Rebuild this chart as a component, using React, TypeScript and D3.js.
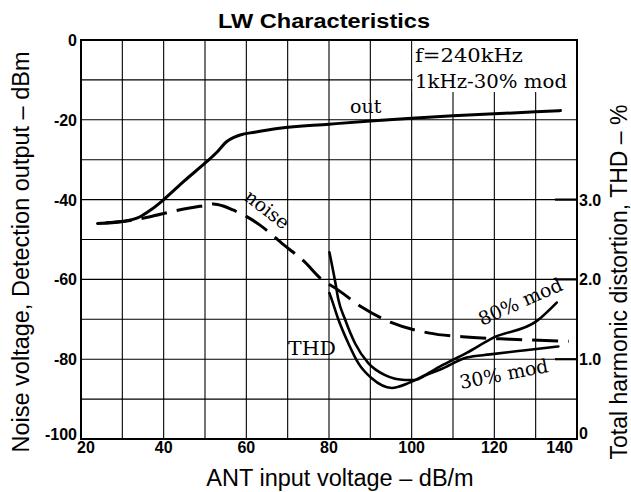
import React from "react";
import * as d3 from "d3";

const xTicks = [20, 40, 60, 80, 100, 120, 140];
const yTicks = [0, -20, -40, -60, -80, -100];
const thdTicks = [0, 1.0, 2.0, 3.0];
const thdTickLabels = ["0", "1.0", "2.0", "3.0"];

// detection output (dBm)
const outX = [24, 30, 34.3, 37, 39.9, 45, 50.4, 53, 55.2, 57, 58.5, 62, 68, 80, 90, 100, 110, 120, 130, 136];
const outY = [-46, -45.5, -44.3, -42.5, -40.1, -35.3, -30.5, -28, -25.5, -24.4, -23.8, -23.1, -22.1, -21.1, -20.3, -19.6, -19, -18.5, -18, -17.7];

// noise voltage (dBm)
const noiseX = [26, 30, 36.7, 42, 47, 50.4, 52, 54.4, 56.8, 60, 63.3, 69, 74, 78, 82, 88, 95, 104, 114, 124, 138];
const noiseY = [-45.8, -45.5, -44.3, -43, -42, -41.4, -41.1, -41.6, -42.6, -44.2, -46.4, -51.3, -55.5, -59.8, -62.5, -67, -70.8, -73.4, -74.5, -75, -75.5];

// THD (%) 30% mod
const thd30X = [80.1, 81.5, 82.25, 83.87, 86.29, 89.51, 93.55, 98.39, 100.8, 103.5, 106.9, 113.3, 119, 127, 135.5];
const thd30Y = [2.34, 1.97, 1.75, 1.5, 1.2, 0.95, 0.8, 0.74, 0.74, 0.8, 0.87, 1.02, 1.06, 1.11, 1.16];

// THD (%) 80% mod
const thd80X = [80.1, 80.65, 82.25, 84.67, 87.09, 90.33, 95.17, 99.19, 103.2, 106.9, 113.3, 119.8, 130.3, 135.1];
const thd80Y = [1.83, 1.75, 1.5, 1.2, 0.95, 0.76, 0.64, 0.7, 0.8, 0.91, 1.08, 1.27, 1.48, 1.71];

const W = 631;
const H = 492;
const L = 81, T = 40, R = 577, B = 439;

const SANS = "'Liberation Sans', Arial, sans-serif";
const SERIF = "'DejaVu Serif', serif";

export default function App() {
  const x = d3.scaleLinear().domain([20, 140]).range([L, R]);
  const y = d3.scaleLinear().domain([-100, 0]).range([B, T]);
  const y2 = d3.scaleLinear().domain([0, 5]).range([B, T]);

  const zip = (a: number[], b: number[]) => a.map((v, i) => [v, b[i]] as [number, number]);
  const lineL = d3.line<[number, number]>().x(d => x(d[0])).y(d => y(d[1])).curve(d3.curveMonotoneX);
  const lineR = d3.line<[number, number]>().x(d => x(d[0])).y(d => y2(d[1])).curve(d3.curveMonotoneX);

  const gridX = d3.range(30, 140, 10);
  const gridY = d3.range(-90, 0, 10);

  return (
    <svg width={W} height={H} style={{ position: "absolute", left: 0, top: 0, background: "#fff" }}>
      <rect x={0} y={0} width={W} height={H} fill="#fff" />
      <text x={324} y={28} textAnchor="middle" fontFamily={SANS} fontWeight="bold" fontSize={20}
        textLength={212} lengthAdjust="spacingAndGlyphs">LW Characteristics</text>

      {/* grid */}
      {gridX.map(v => (
        <line key={"gx" + v} x1={x(v)} x2={x(v)} y1={T} y2={B} stroke="#000" strokeWidth={1.1} />
      ))}
      {gridY.map(v => (
        <line key={"gy" + v} x1={L} x2={R} y1={y(v)} y2={y(v)} stroke="#000" strokeWidth={1.1} />
      ))}

      {/* condition box (white-out) */}
      <rect x={x(100) + 1} y={T + 1} width={x(140) - x(100) - 2} height={51} fill="#fff" />
      <text x={415} y={62} fontFamily={SERIF} fontSize={18} textLength={108} lengthAdjust="spacingAndGlyphs">f=240kHz</text>
      <text x={415} y={88} fontFamily={SERIF} fontSize={18} textLength={152} lengthAdjust="spacingAndGlyphs">1kHz-30% mod</text>

      {/* right axis inward ticks */}
      {thdTicks.slice(1).map(v => (
        <line key={"rt" + v} x1={R - 22} x2={R} y1={y2(v)} y2={y2(v)} stroke="#000" strokeWidth={2.2} />
      ))}

      {/* frame */}
      <rect x={L} y={T} width={R - L} height={B - T} fill="none" stroke="#000" strokeWidth={2} />

      {/* curves */}
      <path d={lineL(zip(outX, outY)) || ""} fill="none" stroke="#000" strokeWidth={3} strokeLinecap="round" />
      <path d={lineL(zip(noiseX, noiseY)) || ""} fill="none" stroke="#000" strokeWidth={3} strokeDasharray="26 10" />
      <path d={lineR(zip(thd30X, thd30Y)) || ""} fill="none" stroke="#000" strokeWidth={2.6} strokeLinecap="round" />
      <path d={lineR(zip(thd80X, thd80Y)) || ""} fill="none" stroke="#000" strokeWidth={2.6} strokeLinecap="round" />

      {/* curve labels */}
      <text x={350} y={113} fontFamily={SERIF} fontSize={19}>out</text>
      <text x={288} y={355} fontFamily={SERIF} fontSize={18} textLength={48} lengthAdjust="spacingAndGlyphs">THD</text>
      <text transform="translate(243,199) rotate(38)" fontFamily={SERIF} fontSize={19}>noise</text>
      <text transform="translate(482,326) rotate(-24)" fontFamily={SERIF} fontSize={19}>80% mod</text>
      <text transform="translate(461,389) rotate(-11)" fontFamily={SERIF} fontSize={19}>30% mod</text>

      {/* left tick labels */}
      {yTicks.map(v => (
        <text key={"yl" + v} x={L - 4} y={y(v) + 6 - (v === -100 ? 5 : 0)} textAnchor="end" fontFamily={SANS}
          fontWeight="bold" fontSize={16}>{v}</text>
      ))}
      {/* bottom tick labels */}
      {xTicks.map(v => (
        <text key={"xl" + v}
          x={v === 20 ? x(v) - 4 : v === 140 ? x(v) - 4 : x(v)}
          y={B + 14}
          textAnchor={v === 20 ? "start" : v === 140 ? "end" : "middle"}
          fontFamily={SANS} fontWeight="bold" fontSize={16}>{v}</text>
      ))}
      {/* right tick labels */}
      {thdTicks.map((v, i) => (
        <text key={"rl" + v} x={R + 2} y={y2(v) + 6 - (v === 0 ? 6 : 0)} fontFamily={SANS}
          fontWeight="bold" fontSize={16}>{thdTickLabels[i]}</text>
      ))}

      {/* axis titles */}
      <text x={340} y={486} textAnchor="middle" fontFamily={SANS} fontSize={23.5}>ANT input voltage – dB/m</text>
      <text transform="translate(29,252) rotate(-90)" textAnchor="middle" fontFamily={SANS} fontSize={23.5}>
        Noise voltage, Detection output – dBm</text>
      <text transform="translate(627,282) rotate(-90)" textAnchor="middle" fontFamily={SANS} fontSize={23}>
        Total harmonic distortion, THD – %</text>
    </svg>
  );
}
